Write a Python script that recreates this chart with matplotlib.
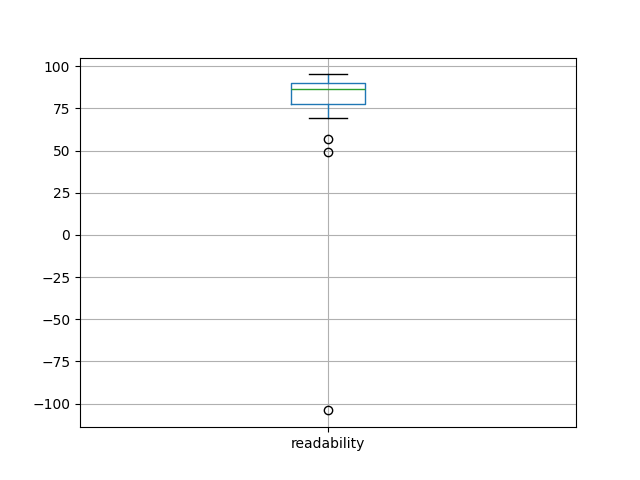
import pandas as pd
import matplotlib
matplotlib.use("Agg")
import matplotlib.pyplot as plt

readability = [-104.0, 49.1, 56.6, 69.0, 73.5, 77.5, 80.2, 82.0, 83.6, 85.0,
               86.2, 87.3, 88.1, 88.9, 89.6, 90.3, 91.5, 92.4, 93.2, 94.3, 95.1]

df = pd.DataFrame({'readability': readability})

fig = plt.figure(figsize=(6.4, 4.8), dpi=100)
df.boxplot(column=['readability'])
plt.savefig('out.png')
